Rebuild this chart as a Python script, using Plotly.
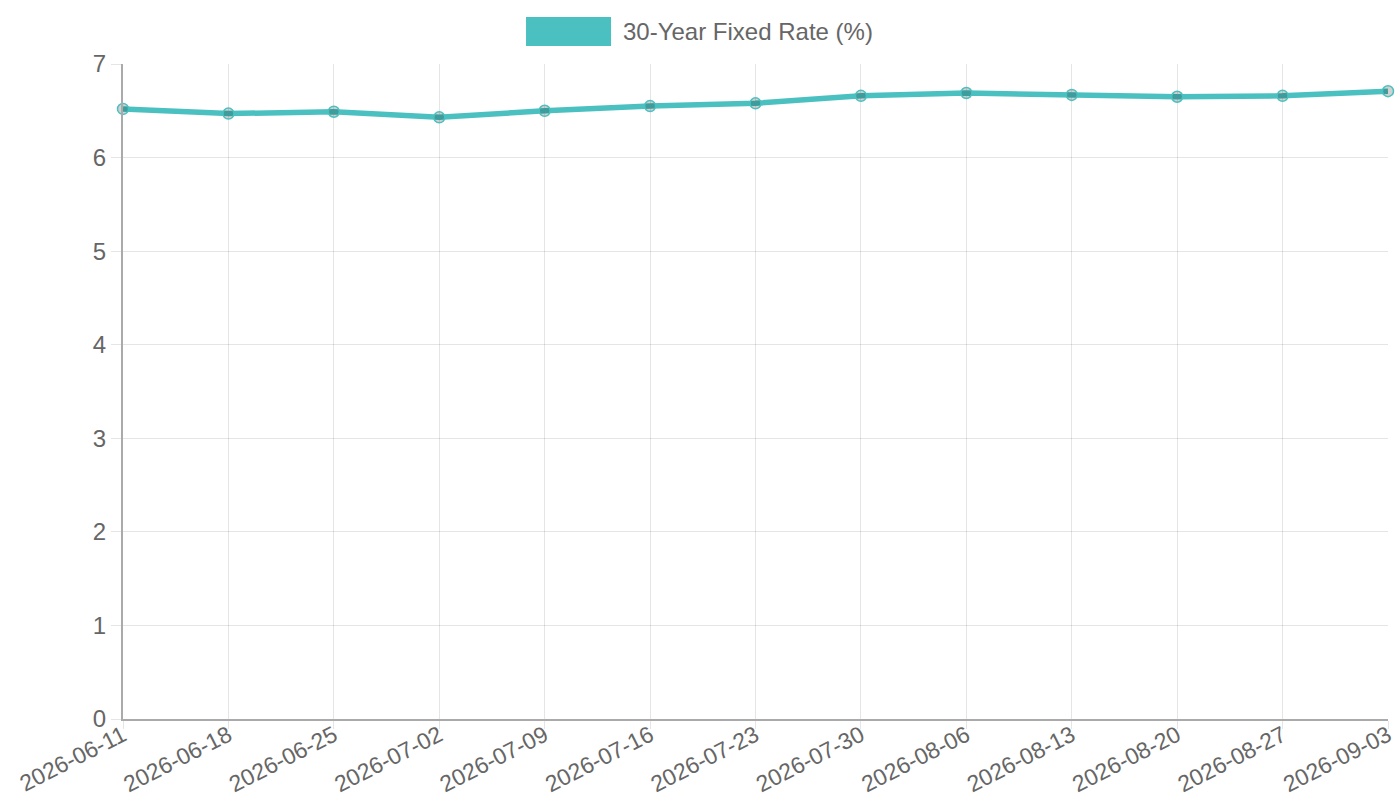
import plotly.graph_objects as go

# weekly 30-year fixed mortgage rate
dates = ['2026-06-11', '2026-06-18', '2026-06-25', '2026-07-02', '2026-07-09',
         '2026-07-16', '2026-07-23', '2026-07-30', '2026-08-06', '2026-08-13',
         '2026-08-20', '2026-08-27', '2026-09-03']
rates = [6.52, 6.47, 6.49, 6.43, 6.50, 6.55, 6.58, 6.66, 6.69, 6.67, 6.65, 6.66, 6.71]
series_name = '30-Year Fixed Rate (%)'
y_ticks = [0, 1, 2, 3, 4, 5, 6, 7]

teal = 'rgb(75,192,192)'
grid = 'rgba(0,0,0,0.1)'
txt = '#666666'

fig = go.Figure()

fig.add_trace(go.Scatter(
    x=dates, y=rates,
    mode='lines+markers', name=series_name,
    line=dict(color=teal, width=5.5),
    marker=dict(size=11, color='rgba(0,0,0,0.18)', line=dict(color=teal, width=1.5)),
    cliponaxis=False,
    showlegend=False
))

# chart.js style legend: filled box + label
fig.add_shape(type='rect', xref='paper', yref='paper',
              x0=0.3186, x1=0.3858, y0=1.0275, y1=1.0718,
              fillcolor=teal, line=dict(width=0))
fig.add_annotation(text=series_name, xref='paper', yref='paper',
                   x=0.3937, y=1.0489, xanchor='left', yanchor='middle',
                   showarrow=False, font=dict(size=24, color=txt))

fig.update_layout(
    width=1400, height=800,
    margin=dict(l=123, r=12, t=64, b=81),
    plot_bgcolor='white', paper_bgcolor='white',
    font=dict(family='Liberation Sans, Arial, sans-serif', size=24, color=txt),
    xaxis=dict(
        type='category', tickvals=dates, ticktext=dates,
        tickangle=-27, range=[0, len(dates) - 1], automargin=False,
        ticklabelstandoff=-16,
        showgrid=True, gridcolor=grid, gridwidth=1,
        ticks='outside', ticklen=8, tickcolor=grid,
        showline=True, linecolor='#aaaaaa', linewidth=2,
        zeroline=False, tickfont=dict(size=23, color=txt)
    ),
    yaxis=dict(
        range=[0, 7], tickvals=y_ticks, automargin=False,
        showgrid=True, gridcolor=grid, gridwidth=1,
        ticks='outside', ticklen=10, tickcolor=grid,
        showline=True, linecolor='#aaaaaa', linewidth=2,
        zeroline=False, tickfont=dict(size=24, color=txt)
    ),
)

# no page margin so the figure sits at the window origin
fig.write_html("out.html",
               config={'displayModeBar': False},
               post_script="document.body.style.margin='0';document.body.style.overflow='hidden';")
